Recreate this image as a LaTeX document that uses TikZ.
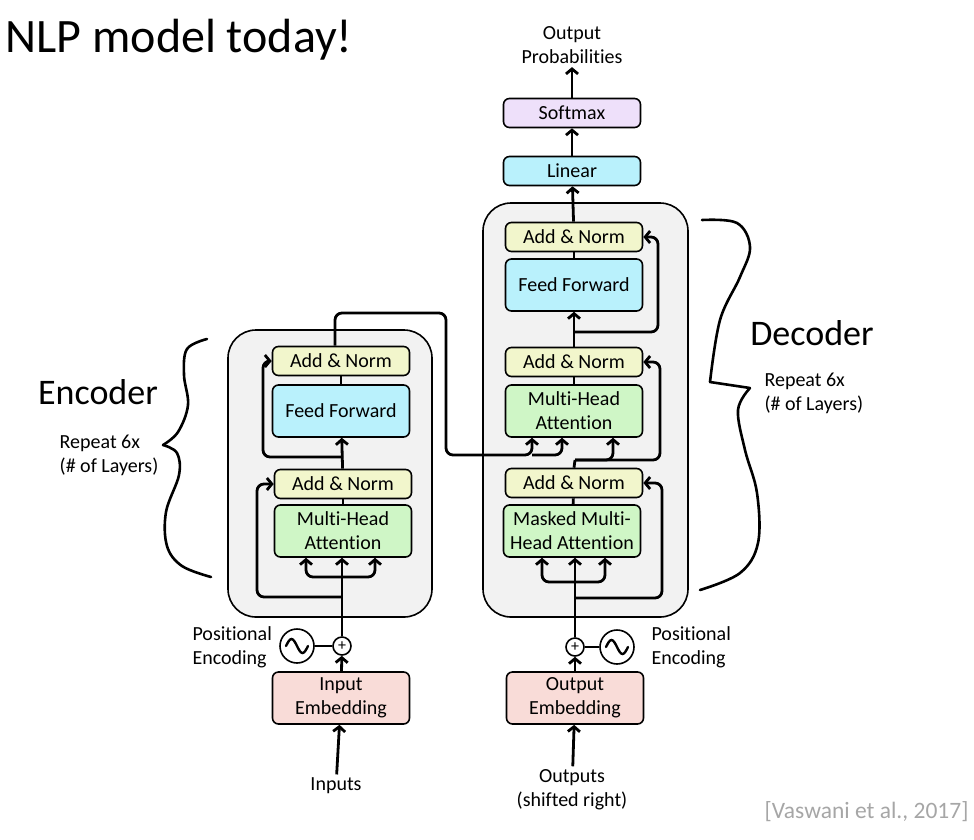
\documentclass[tikz,border=0pt]{standalone}
\usepackage{fontspec}
\setmainfont{Carlito}[Ligatures=NoCommon]
\usetikzlibrary{arrows.meta,positioning,calc}
\definecolor{addn}{HTML}{F2F6CC}
\definecolor{ffw}{HTML}{B9F1FC}
\definecolor{att}{HTML}{CFF6C6}
\definecolor{emb}{HTML}{F9DCD8}
\definecolor{smx}{HTML}{EEE0FA}
\definecolor{blk}{HTML}{F2F2F2}
\definecolor{cite}{HTML}{A6A6A6}
\tikzset{
  box/.style={draw=black,line width=1.6pt,rounded corners=6pt,align=center,minimum width=137pt,inner sep=2pt,font=\fontsize{20}{24}\selectfont},
  nbox/.style={box,fill=addn,minimum height=29pt},
  fbox/.style={box,fill=ffw,minimum height=52pt},
  abox/.style={box,fill=att,minimum height=52pt},
  ebox/.style={box,fill=emb,minimum height=52pt},
  stack/.style={draw=black,line width=1.6pt,rounded corners=28pt,fill=blk},
  circ/.style={circle,draw=black,line width=1.6pt,fill=white,inner sep=0pt,minimum size=18pt,font=\fontsize{16}{16}\selectfont},
  sinec/.style={circ,minimum size=34pt},
  wave/.style={line width=2.4pt,line cap=round},
  lbl/.style={align=center,font=\fontsize{20}{24}\selectfont},
  big/.style={font=\fontsize{36}{40}\selectfont},
  ar/.style={-{Straight Barb[length=5pt,width=12pt]},line width=2.8pt,rounded corners=7pt},
  ln/.style={line width=2.8pt,rounded corners=7pt},
  brc/.style={line width=2.6pt,line cap=round,line join=round},
}

\begin{document}
\begin{tikzpicture}[x=1pt,y=-1pt]
\useasboundingbox (0,0) rectangle (974,839);

% titles
\node[anchor=west,font=\fontsize{48}{52}\selectfont] (title) at (2,40) {NLP model today!};
\node[anchor=east,text=cite,font=\fontsize{23.5}{26}\selectfont] (cite) at (972,812) {[Vaswani et al., 2017]};

% encoder stack
\node[stack,minimum width=204pt,minimum height=287pt] (encblk) at (330,473.5) {};
\node[nbox] (encan2) at (341,361) {Add \& Norm};
\node[fbox] (encff) at (341,411) {Feed Forward};
\node[nbox] (encan1) at (343,484) {Add \& Norm};
\node[abox] (encmha) at (343,531) {Multi-Head\\Attention};
\node[ebox] (inemb) at (341,698) {Input\\Embedding};
\node[circ] (encplus) at (342,646) {+};
\node[sinec] (encpe) at (297,646) {};
\draw[wave] (encpe.center) ++(-11,0) sin ++(5.5,-7) cos ++(5.5,7) sin ++(5.5,7) cos ++(5.5,-7);
\node[lbl,align=left,anchor=west] (encpel) at (189,647) {Positional\\Encoding};
\node[lbl] (inp) at (336,786) {Inputs};

% decoder stack
\node[stack,minimum width=205pt,minimum height=414pt] (decblk) at (585.5,410) {};
\node[nbox] (decan3) at (574,237) {Add \& Norm};
\node[fbox] (decff) at (574,285) {Feed Forward};
\node[nbox] (decan2) at (574,362) {Add \& Norm};
\node[abox] (decmha) at (574,411) {Multi-Head\\Attention};
\node[nbox] (decan1) at (574,483) {Add \& Norm};
\node[abox] (decmmha) at (572,531) {Masked Multi-\\Head Attention};
\node[ebox] (outemb) at (575,698) {Output\\Embedding};
\node[circ] (decplus) at (575,647) {+};
\node[sinec] (decpe) at (617,647) {};
\draw[wave] (decpe.center) ++(-11,0) sin ++(5.5,-7) cos ++(5.5,7) sin ++(5.5,7) cos ++(5.5,-7);
\node[lbl,align=left,anchor=west] (decpel) at (648,647) {Positional\\Encoding};
\node[lbl] (outp) at (572,790) {Outputs\\(shifted right)};
\node[nbox,fill=ffw] (lin) at (572,171) {Linear};
\node[nbox,fill=smx] (smax) at (572,113) {Softmax};
\node[lbl] (oprob) at (572,45) {Output\\Probabilities};

% side labels
\node[big] (enclbl) at (98,392) {Encoder};
\node[lbl,align=left] (encrep) at (109,455) {Repeat 6x\\(\# of Layers)};
\node[big] (declbl) at (812,333) {Decoder};
\node[lbl,align=left,anchor=west] (decrep) at (761,393) {Repeat 6x\\(\# of Layers)};

% encoder wiring
\coordinate (encfork) at (342,577);
\coordinate (encres1) at (342,597);
\coordinate (encres2) at (343,457);
\draw[ar] (inp) -- (inemb);
\draw[ar] (inemb) -- (encplus);
\draw[line width=1.6pt] (encpe) -- (encplus);
\draw[ar] (encplus.north) -- (encplus.north |- encmha.south);
\draw[ar] (encfork) -| ([xshift=-37pt]encmha.south);
\draw[ar] (encfork) -| ([xshift=32pt]encmha.south);
\draw[ar] (encres1) -- ++(-85,0) |- (encan1.west);
\draw[ln] (encmha) -- (encan1);
\draw[ar] (encan1) -- (encff);
\draw[ar] (encres2) -- ++(-80,0) |- (encan2.west);
\draw[ln] (encff) -- (encan2);

% encoder -> decoder
\coordinate (xtop) at (446,313);
\coordinate (xlow) at (446,455);
\draw[ar] ([xshift=-6pt]encan2.north) |- (xtop) -- (xlow) -| ([xshift=-42pt]decmha.south);
\draw[ar] ([xshift=-42pt]decmha.south |- xlow) -| ([xshift=-12pt]decmha.south);

% decoder wiring
\coordinate (decfork) at (575,582);
\coordinate (decres1) at (575,598);
\coordinate (decmid) at (575,460);
\coordinate (decres3) at (575,332);
\draw[ar] (outp) -- (outemb);
\draw[ar] (outemb) -- (decplus);
\draw[line width=1.6pt] (decpe) -- (decplus);
\draw[ar] (decplus.north) -- (decplus.north |- decmmha.south);
\draw[ar] (decfork) -| ([xshift=-30pt]decmmha.south);
\draw[ar] (decfork) -| ([xshift=33pt]decmmha.south);
\draw[ar] (decres1) -- ++(87,0) |- (decan1.east);
\draw[ln] (decmmha) -- (decan1);
\draw[ln] (decan1.north) -- (decmid);
\draw[ar] (decmid) -| ([xshift=39pt]decmha.south);
\draw[ar] (decmid) -- ++(85,0) |- (decan2.east);
\draw[ln] (decmha) -- (decan2);
\draw[ar] (decan2) -- (decff);
\draw[ar] (decres3) -- ++(83,0) |- (decan3.east);
\draw[ln] (decff) -- (decan3);
\draw[ar] (decan3) -- (lin);
\draw[ar] (lin) -- (smax);
\draw[ar] (smax) -- (oprob);

% braces
\draw[brc] plot[smooth,tension=0.6] coordinates {(207,339) (187,349) (184,375) (188,405) (178,432) (163,445)};
\draw[brc] plot[smooth,tension=0.6] coordinates {(163,445) (177,453) (179,475) (166,512) (167,546) (182,566) (211,577)};
\draw[brc] plot[smooth,tension=0.6] coordinates {(702,220) (737,223) (750,247) (740,277) (720,320) (710,382)};
\draw[brc] (710,382) -- (750,388);
\draw[brc] plot[smooth,tension=0.6] coordinates {(750,388) (738,410) (745,450) (757,493) (758,543) (740,573) (700,590)};
\end{tikzpicture}
\end{document}
